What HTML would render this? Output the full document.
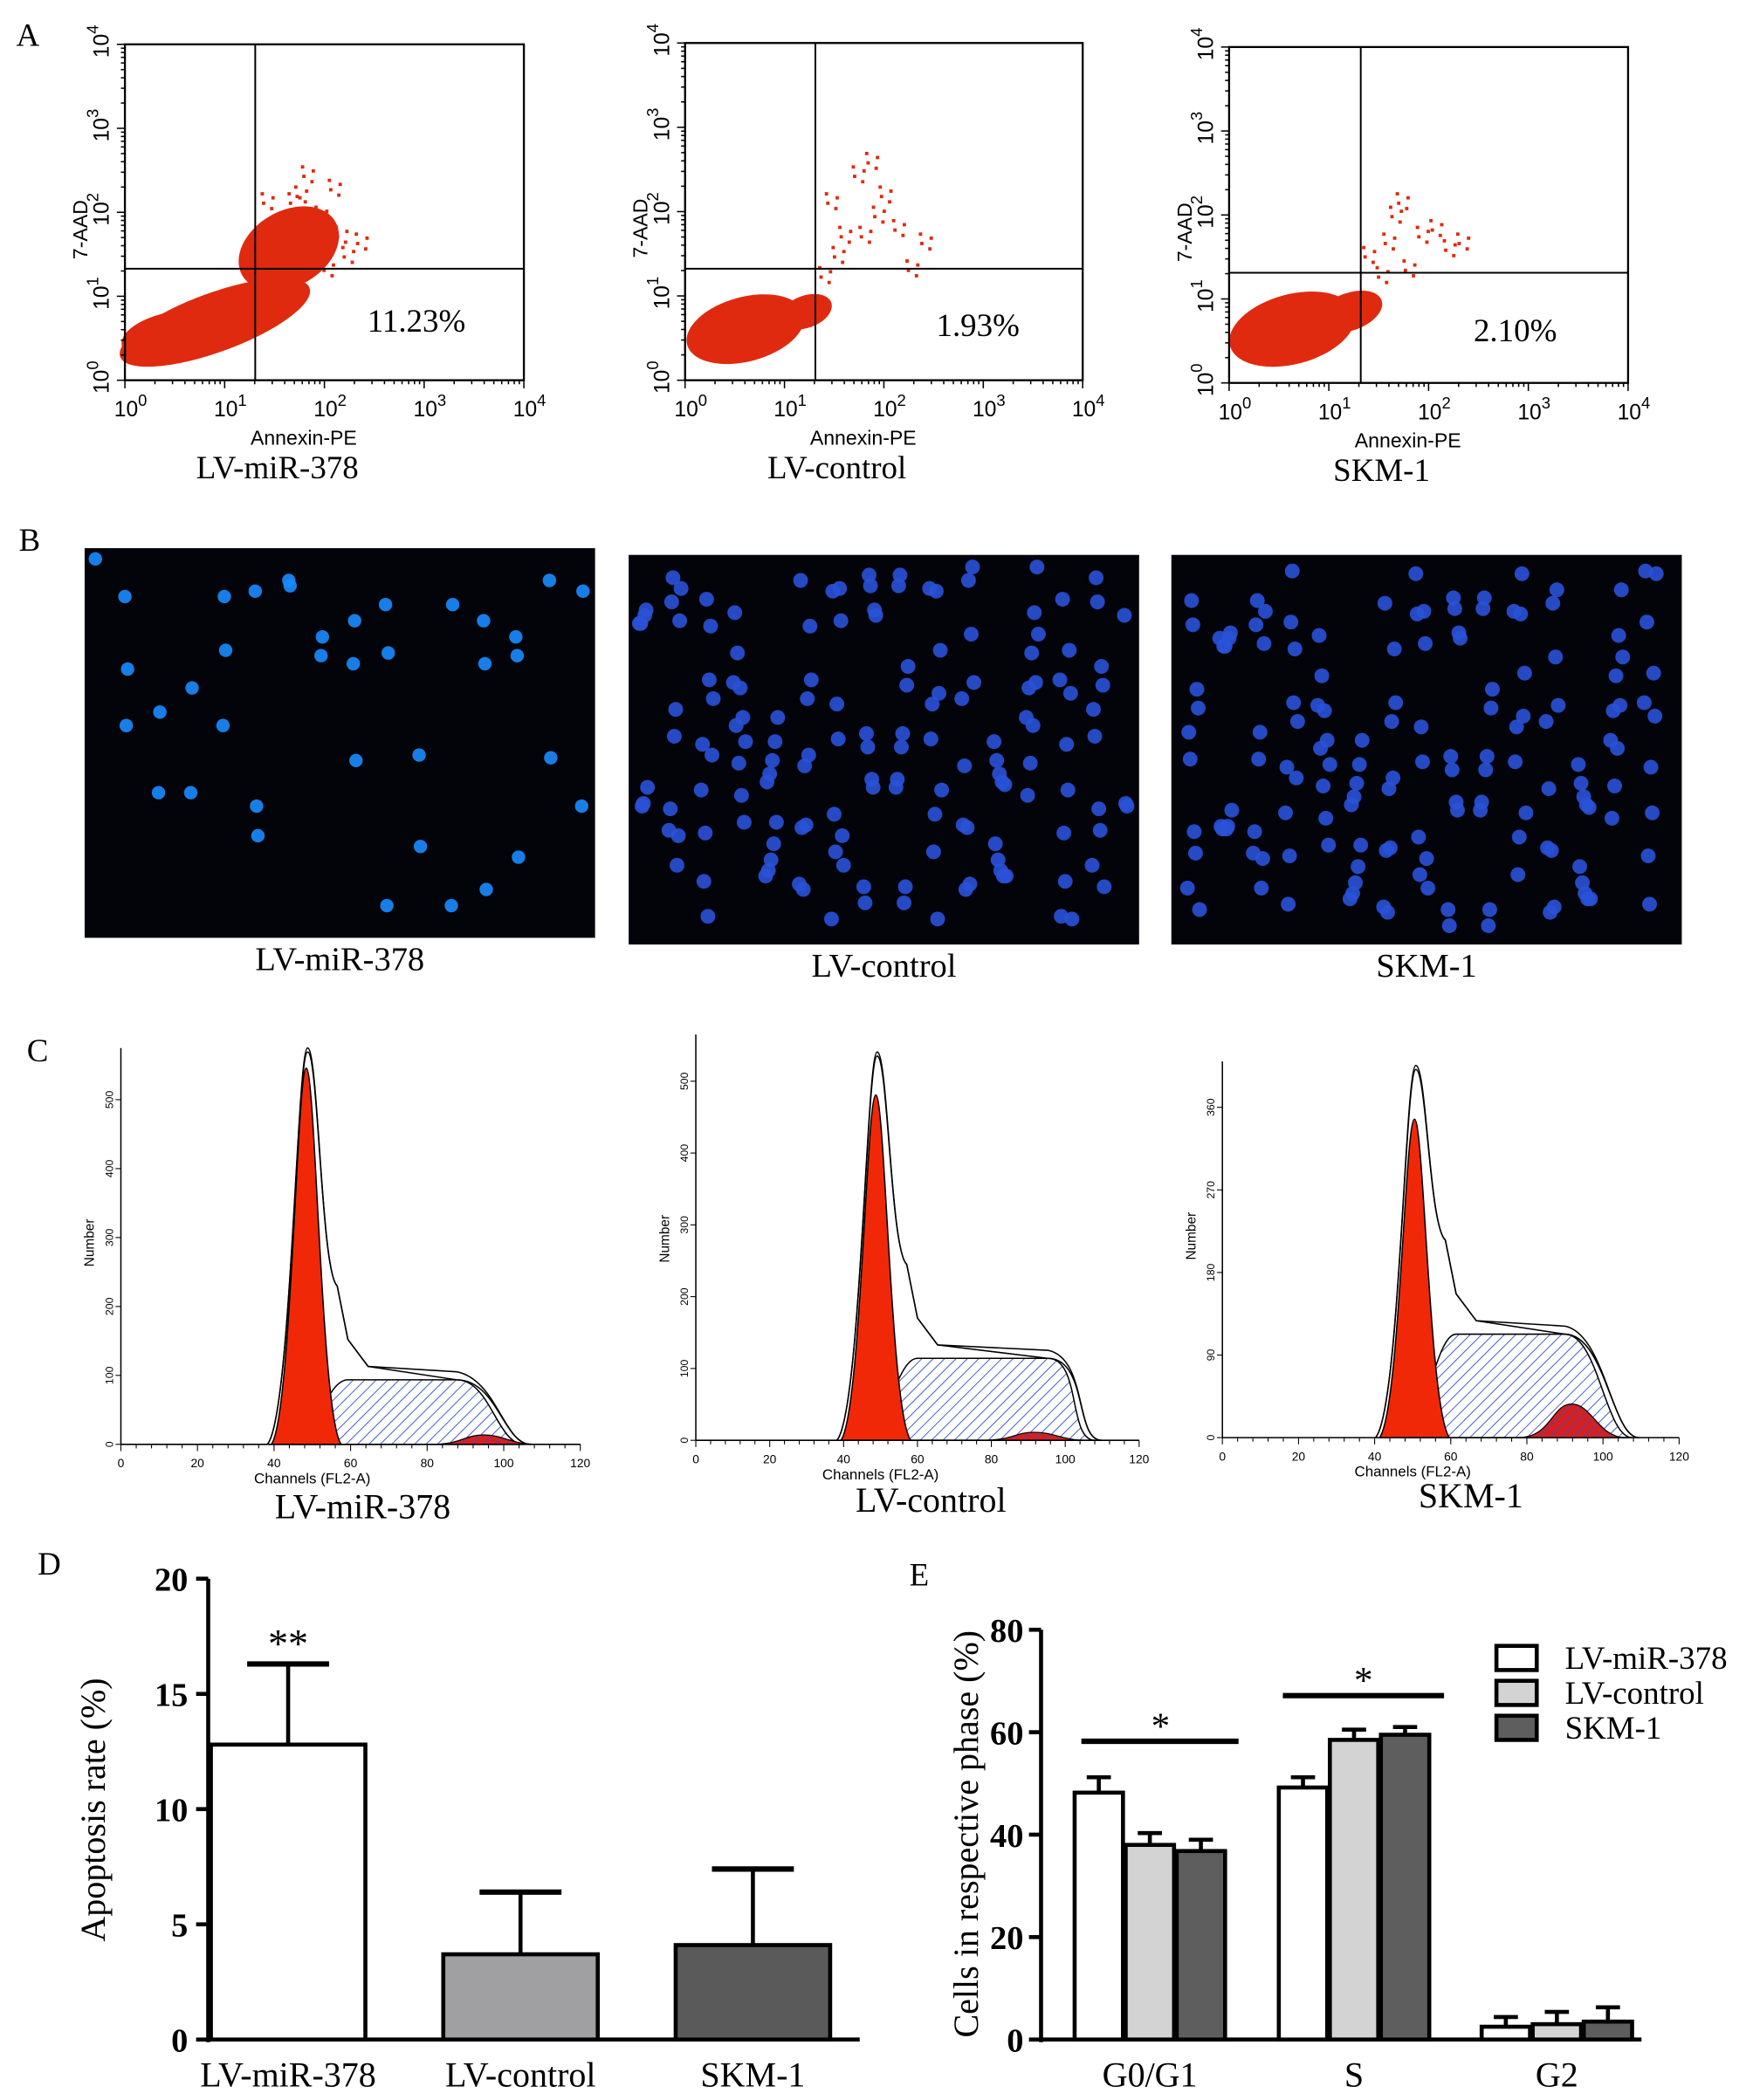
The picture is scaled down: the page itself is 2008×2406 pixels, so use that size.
<!DOCTYPE html>
<html><head><meta charset="utf-8"><style>
html,body{margin:0;padding:0;background:#fff;}
svg{display:block;}
.serif{font-family:"Liberation Serif",serif;}
.sans{font-family:"Liberation Sans",sans-serif;}
</style></head><body>
<svg id="fig" width="2008" height="2406" viewBox="0 0 1305 1563" preserveAspectRatio="none" xmlns="http://www.w3.org/2000/svg">
<defs>
<pattern id="hatch" patternUnits="userSpaceOnUse" width="6" height="6" patternTransform="rotate(45)">
<rect width="6" height="6" fill="#fff"/><line x1="0" y1="0" x2="0" y2="6" stroke="#3355cc" stroke-width="1.2"/>
</pattern>
<pattern id="hatchr" patternUnits="userSpaceOnUse" width="6" height="6" patternTransform="rotate(45)">
<rect width="6" height="6" fill="#d42020"/><line x1="0" y1="0" x2="0" y2="6" stroke="#5544aa" stroke-width="1.2"/>
</pattern>
</defs>
<g id="panelA"></g>
<g id="panelB"></g>
<g id="panelC"></g>
<g id="panelD"></g>
<g id="panelE"></g>
</svg>
<script>
// ---- Panel D data ----
const dCategories = ["LV-miR-378","LV-control","SKM-1"];
const dValues = [12.8, 3.7, 4.1];
const dErrors = [16.3, 6.4, 7.4];
const dTicks = [0,5,10,15,20];
// ---- Panel E data ----
const eCategories = ["G0/G1","S","G2"];
const eSeries = ["LV-miR-378","LV-control","SKM-1"];
const eValuesMiR = [48.2, 49.2, 2.5];
const eValuesCtrl = [38.0, 58.5, 3.0];
const eValuesSkm = [36.8, 59.5, 3.5];
const eErrMiR = [51.2, 51.2, 4.4];
const eErrCtrl = [40.3, 60.5, 5.4];
const eErrSkm = [39.0, 61.0, 6.3];
const eTicks = [0,20,40,60,80];

const NS="http://www.w3.org/2000/svg";
function mk(parent,tag,attrs,text){const e=document.createElementNS(NS,tag);for(const k in attrs)e.setAttribute(k,attrs[k]);if(text!==undefined)e.textContent=text;parent.appendChild(e);return e;}

// ---------- Panel A ----------
const A=document.getElementById('panelA');
let t=mk(A,'text',{x:12,y:34,'font-size':24,class:'serif'},'A');


const aPlots=[
 {x0:93,y0:33,w:297,h:250,vx:190,hy:200,pct:"11.23%",name:"LV-miR-378",px:310,py:247,blobs:[[160,240,75,22,-20],[215,185,40,28,-30],[130,250,40,18,-10]]},
 {x0:510,y0:32,w:296,h:251,vx:607,hy:200,pct:"1.93%",name:"LV-control",px:728,py:250,blobs:[[555,245,45,24,-15],[600,232,20,12,-20]]},
 {x0:915,y0:35,w:297,h:250,vx:1013,hy:203,pct:"2.10%",name:"SKM-1",px:1128,py:254,blobs:[[962,245,48,26,-15],[1005,232,25,14,-20]]}
];
const aSparse=[[[200,150],[225,145],[240,160],[255,175],[260,190],[230,130],[250,140],[270,180],[245,200],[220,150]],
 [[620,150],[640,130],[655,160],[630,175],[670,170],[650,120],[690,180],[625,190],[660,145],[645,175],[680,200],[615,205]],
 [[1020,190],[1040,160],[1060,175],[1045,150],[1080,185],[1050,200],[1030,205],[1070,170],[1090,180],[1035,180]]];
aPlots.forEach((p,i)=>{
 const g=mk(A,'g',{});
 
 
 p.blobs.forEach(b=>{mk(g,'ellipse',{cx:b[0],cy:b[1],rx:b[2],ry:b[3],fill:'#e02a10',transform:`rotate(${b[4]} ${b[0]} ${b[1]})`});});
 aSparse[i].forEach(s=>{for(let k=0;k<4;k++)mk(g,'rect',{x:s[0]+(k*7%13)-6,y:s[1]+(k*11%15)-7,width:2.5,height:2.5,fill:'#e02a10'});});
 mk(g,'rect',{x:p.x0,y:p.y0,width:p.w,height:p.h,fill:'none',stroke:'#000','stroke-width':1.5});
 mk(g,'line',{x1:p.vx,y1:p.y0,x2:p.vx,y2:p.y0+p.h,stroke:'#000','stroke-width':1.3});
 mk(g,'line',{x1:p.x0,y1:p.hy,x2:p.x0+p.w,y2:p.hy,stroke:'#000','stroke-width':1.3});
 for(let d=0;d<=4;d++){
  const tx=p.x0+d*p.w/4, ty=p.y0+p.h-d*p.h/4;
  mk(g,'line',{x1:tx,y1:p.y0+p.h,x2:tx,y2:p.y0+p.h+6,stroke:'#000'});
  mk(g,'line',{x1:p.x0,y1:ty,x2:p.x0-6,y2:ty,stroke:'#000'});
  const lx=mk(g,'text',{x:tx-8,y:p.y0+p.h+27,'font-size':16,class:'sans'},'10');
  mk(lx,'tspan',{dy:-8,'font-size':12},''+d);
  const ly=mk(g,'text',{transform:`translate(${p.x0-12},${ty+10}) rotate(-90)`,'font-size':16,class:'sans'},'10');
  mk(ly,'tspan',{dy:-8,'font-size':12},''+d);
  if(d<4)for(let m=2;m<10;m++){const o=Math.log10(m)*p.w/4;mk(g,'line',{x1:tx+o,y1:p.y0+p.h,x2:tx+o,y2:p.y0+p.h+3,stroke:'#000'});const oy=Math.log10(m)*p.h/4;mk(g,'line',{x1:p.x0,y1:ty-oy,x2:p.x0-3,y2:ty-oy,stroke:'#000'});}
 }
 mk(g,'text',{x:p.x0+p.w/2-55,y:p.y0+p.h+48,'font-size':15,class:'sans'},'Annexin-PE');
 mk(g,'text',{transform:`translate(${p.x0-28},${p.y0+160}) rotate(-90)`,'font-size':15,class:'sans'},'7-AAD');
 mk(g,'text',{x:p.px,y:p.py,'font-size':24,class:'serif','text-anchor':'middle'},p.pct);
 const n=mk(g,'text',{x:p.x0+p.w/2-35,y:p.y0+p.h+73,'font-size':24,class:'serif','text-anchor':'middle'},p.name);
 
 
});

// ---------- Panel B ----------
const B=document.getElementById('panelB');
t=mk(B,'text',{x:14,y:410,'font-size':24,class:'serif'},'B');


const bImgs=[{x:63,y:408,n:38,c:'#1a8cff',r:5,name:'LV-miR-378',ly:722},{x:468,y:413,n:150,c:'#2a52d8',r:5.5,name:'LV-control',ly:727},{x:872,y:413,n:150,c:'#2a52d8',r:5.5,name:'SKM-1',ly:727}];
bImgs.forEach((b,i)=>{
 const g=mk(B,'g',{});
 
 
 mk(g,'rect',{x:b.x,y:b.y,width:380,height:290,fill:'#02040a'});
 for(let k=0;k<b.n;k++){
  const cx=b.x+8+((k*97+i*31)%364), cy=b.y+8+((k*61+k*k*7+i*17)%274);
  mk(g,'circle',{cx:cx,cy:cy,r:b.r,fill:b.c,opacity:0.9});
 }
 mk(g,'text',{x:b.x+190,y:b.ly,'font-size':25,class:'serif','text-anchor':'middle'},b.name);
});

// ---------- Panel C ----------
const C=document.getElementById('panelC');
t=mk(C,'text',{x:20,y:790,'font-size':24,class:'serif'},'C');


const cPlots=[
 {x0:90,x1:432,base:1075,top:780,pk:229,py:780,rp:795,pl:1027,pe:340,end:390,g2:1068,g2x:360,yt:[0,100,200,300,400,500],ymax:575,name:'LV-miR-378',tx:270,ty:1130},
 {x0:518,x1:848,base:1072,top:770,pk:653,py:783,rp:815,pl:1011,pe:780,end:815,g2:1066,g2x:770,yt:[0,100,200,300,400,500],ymax:565,name:'LV-control',tx:693,ty:1125},
 {x0:910,x1:1250,base:1070,top:790,pk:1054,py:793,rp:833,pl:993,pe:1165,end:1215,g2:1045,g2x:1170,yt:[0,90,180,270,360],ymax:410,name:'SKM-1',tx:1095,ty:1122}
];
cPlots.forEach((p,i)=>{
 const g=mk(C,'g',{});
 
 
 const sx=(p.x1-p.x0)/120;
 const X=v=>p.x0+v*sx;
 // S-phase hatched
 mk(g,'path',{d:`M${p.pk-10},${p.base} C${p.pk+8},${p.base-10} ${p.pk+15},${p.pl} ${p.pk+30},${p.pl} L${p.pe},${p.pl} C${p.pe+25},${p.pl} ${p.end-20},${p.base} ${p.end},${p.base} Z`,fill:'url(#hatch)',stroke:'#000','stroke-width':1});
 // G2 red
 mk(g,'path',{d:`M${p.g2x-40},${p.base} C${p.g2x-15},${p.base} ${p.g2x-15},${p.g2} ${p.g2x},${p.g2} C${p.g2x+15},${p.g2} ${p.g2x+20},${p.base} ${p.g2x+40},${p.base} Z`,fill:'url(#hatchr)',stroke:'#000','stroke-width':0.8});
 // G1 red peak
 mk(g,'path',{d:`M${p.pk-27},${p.base} C${p.pk-12},${p.base-20} ${p.pk-8},${p.rp} ${p.pk-1},${p.rp} C${p.pk+6},${p.rp} ${p.pk+10},${p.base-20} ${p.pk+25},${p.base} Z`,fill:'#f02808',stroke:'#000','stroke-width':1});
 // outlines
 for(const o of [0,3]){
  mk(g,'path',{d:`M${p.pk-30},${p.base} C${p.pk-12},${p.base-20} ${p.pk-8},${p.py+o} ${p.pk},${p.py+o} C${p.pk+8},${p.py+o} ${p.pk+10},${p.pl-80} ${p.pk+22},${p.pl-70} L${p.pk+30},${p.pl-30} L${p.pk+45},${p.pl-10} L${p.pe},${p.pl-o*2} C${p.pe+30},${p.pl} ${p.end-15},${p.base} ${p.end+5},${p.base}`,fill:'none',stroke:'#000','stroke-width':1});
 }
 // axes
 mk(g,'line',{x1:p.x0,y1:p.base,x2:p.x1,y2:p.base,stroke:'#000'});
 mk(g,'line',{x1:p.x0,y1:p.base,x2:p.x0,y2:p.top,stroke:'#000'});
 for(let v=0;v<=120;v+=4){mk(g,'line',{x1:X(v),y1:p.base,x2:X(v),y2:p.base+(v%20?3:5),stroke:'#000','stroke-width':0.7});}
 for(let v=0;v<=120;v+=20){mk(g,'text',{x:X(v),y:p.base+17,'font-size':9,class:'sans','text-anchor':'middle'},''+v);}
 const sy=(p.base-p.top)/p.ymax;
 p.yt.forEach(v=>{const y=p.base-v*sy;mk(g,'line',{x1:p.x0,y1:y,x2:p.x0-4,y2:y,stroke:'#000','stroke-width':0.7});mk(g,'text',{transform:`translate(${p.x0-6},${y}) rotate(-90)`,'font-size':8,class:'sans','text-anchor':'middle'},''+v);});
 mk(g,'text',{x:X(50),y:p.base+29,'font-size':11,class:'sans','text-anchor':'middle'},'Channels  (FL2-A)');
 mk(g,'text',{transform:`translate(${p.x0-20},${p.base-150}) rotate(-90)`,'font-size':10,class:'sans','text-anchor':'middle'},'Number');
 mk(g,'text',{x:p.tx,y:p.ty,'font-size':26,class:'serif','text-anchor':'middle'},p.name);
});

// ---------- Panel D ----------
const D=document.getElementById('panelD');
t=mk(D,'text',{x:28,y:1172,'font-size':24,class:'serif'},'D');


const dY=v=>1518-v*(1518-1175)/20;
const dX=i=>157+i*173;
const dFill=['#ffffff','#a0a0a3','#5a5a5a'];
mk(D,'line',{x1:155,y1:1175,x2:155,y2:1520,stroke:'#000','stroke-width':3});
mk(D,'line',{x1:155,y1:1518,x2:640,y2:1518,stroke:'#000','stroke-width':3});
dTicks.forEach(v=>{
 mk(D,'line',{x1:146,y1:dY(v),x2:155,y2:dY(v),stroke:'#000','stroke-width':3});
 mk(D,'text',{x:140,y:dY(v)+9,'font-size':25,'font-weight':'bold',class:'serif','text-anchor':'end'},''+v);
});
dValues.forEach((v,i)=>{
 const x=dX(i);
 const b=mk(D,'rect',{x:x,y:dY(v),width:115,height:1518-dY(v),fill:dFill[i],stroke:'#000','stroke-width':3});
 
 
 mk(D,'line',{x1:x+57.5,y1:dY(v),x2:x+57.5,y2:dY(dErrors[i]),stroke:'#000','stroke-width':3});
 mk(D,'line',{x1:x+27,y1:dY(dErrors[i]),x2:x+88,y2:dY(dErrors[i]),stroke:'#000','stroke-width':4});
 mk(D,'text',{x:x+57.5,y:1553,'font-size':26,class:'serif','text-anchor':'middle'},dCategories[i]);
});
mk(D,'text',{x:dX(0)+57.5,y:dY(dErrors[0])-5,'font-size':30,class:'serif','text-anchor':'middle'},'**');
mk(D,'text',{transform:'translate(78,1347) rotate(-90)','font-size':26,class:'serif','text-anchor':'middle'},'Apoptosis rate (%)');

// ---------- Panel E ----------
const E=document.getElementById('panelE');
t=mk(E,'text',{x:677,y:1180,'font-size':24,class:'serif'},'E');


const eY=v=>1518-v*(1518-1213)/80;
const eGX=[800,952,1103];
const eFill=['#ffffff','#d3d3d3','#5e5e5e'];
const eVals=[eValuesMiR,eValuesCtrl,eValuesSkm];
const eErrs=[eErrMiR,eErrCtrl,eErrSkm];
mk(E,'line',{x1:775,y1:1213,x2:775,y2:1520,stroke:'#000','stroke-width':3});
mk(E,'line',{x1:775,y1:1518,x2:1222,y2:1518,stroke:'#000','stroke-width':3});
eTicks.forEach(v=>{
 mk(E,'line',{x1:766,y1:eY(v),x2:775,y2:eY(v),stroke:'#000','stroke-width':3});
 mk(E,'text',{x:762,y:eY(v)+9,'font-size':25,'font-weight':'bold',class:'serif','text-anchor':'end'},''+v);
});
eCategories.forEach((c,ci)=>{
 eSeries.forEach((s,si)=>{
  const x=eGX[ci]+si*38, v=eVals[si][ci], er=eErrs[si][ci];
  mk(E,'line',{x1:x+18,y1:eY(v),x2:x+18,y2:eY(er),stroke:'#000','stroke-width':3});
  mk(E,'line',{x1:x+9,y1:eY(er),x2:x+27,y2:eY(er),stroke:'#000','stroke-width':3});
  const b=mk(E,'rect',{x:x,y:eY(v),width:36,height:1518-eY(v),fill:eFill[si],stroke:'#000','stroke-width':3});
  
  
 });
 mk(E,'text',{x:eGX[ci]+56,y:1553,'font-size':26,class:'serif','text-anchor':'middle'},c);
});
mk(E,'line',{x1:805,y1:1296,x2:922,y2:1296,stroke:'#000','stroke-width':4});
mk(E,'text',{x:864,y:1294,'font-size':28,class:'serif','text-anchor':'middle'},'*');
mk(E,'line',{x1:955,y1:1262,x2:1075,y2:1262,stroke:'#000','stroke-width':4});
mk(E,'text',{x:1015,y:1260,'font-size':28,class:'serif','text-anchor':'middle'},'*');
mk(E,'text',{transform:'translate(728,1365) rotate(-90)','font-size':26,class:'serif','text-anchor':'middle'},'Cells in respective phase (%)');
eSeries.forEach((s,si)=>{
 const y=1225+si*26;
 const lg=mk(E,'g',{});
 
 
 mk(lg,'rect',{x:1114,y:y,width:30,height:18,fill:eFill[si],stroke:'#000','stroke-width':3});
 mk(lg,'text',{x:1165,y:y+17,'font-size':24,class:'serif'},s);
});
</script>
</body></html>
